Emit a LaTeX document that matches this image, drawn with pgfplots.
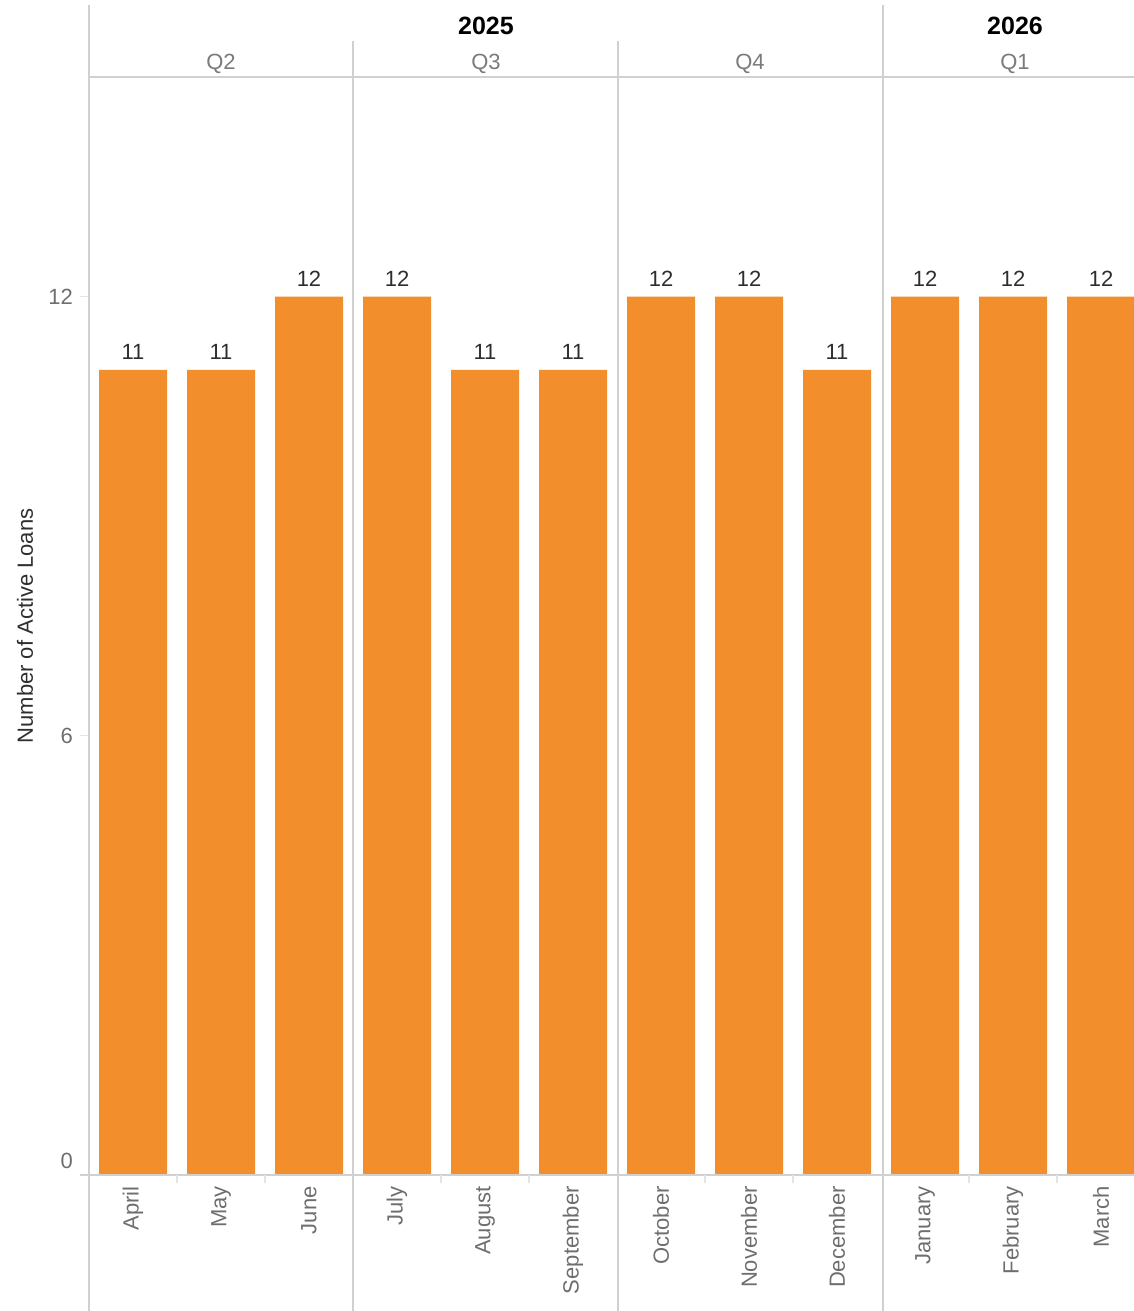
\documentclass[border=0pt]{standalone}
\usepackage{fontspec}
\setmainfont{Liberation Sans}
\usepackage{pgfplots}
\pgfplotsset{compat=1.18}
\definecolor{barorange}{HTML}{F28E2B}
\definecolor{gridgrey}{HTML}{D0D0D0}
\definecolor{tickgrey}{HTML}{E4E4E4}
\definecolor{ticklab}{HTML}{6E6E6E}
\definecolor{qlab}{HTML}{7A7A7A}
\definecolor{lab}{HTML}{2E2E2E}
\begin{document}
\begin{tikzpicture}
\begin{axis}[
  at={(0,0)}, anchor=south west,
  scale only axis, width=528pt, height=549pt,
  xmin=-0.5, xmax=11.5, ymin=0, ymax=15,
  axis line style={draw=none},
  clip=false,
  xtick={0,...,11},
  xticklabels={April,May,June,July,August,September,October,November,December,January,February,March},
  xtick style={draw=none},
  xticklabel style={font=\fontsize{11}{13}\selectfont, text=ticklab, yshift=-1pt, rotate=90, anchor=east, inner sep=0pt},
  ytick={6,12},
  ytick pos=left, tick align=outside,
  ytick style={draw=tickgrey, line width=0.6pt},
  major tick length=4.5pt,
  yticklabel style={font=\fontsize{11}{13}\selectfont, text=ticklab},
  /pgf/number format/assume math mode=true,
  extra y ticks={0},
  extra y tick style={yticklabel style={yshift=7pt}},
  ylabel={Number of Active Loans},
  ylabel style={at={(axis description cs:-0.0606,0.5)}, anchor=center, font=\fontsize{11}{13}\selectfont, text=lab},
  nodes near coords,
  every node near coord/.append style={font=\fontsize{11}{13}\selectfont, text=lab, inner sep=0pt, yshift=5pt},
]
\addplot[ybar, bar width=34pt, fill=barorange, draw=none] coordinates {
  (0,11) (1,11) (2,12) (3,12) (4,11) (5,11) (6,12) (7,12) (8,11) (9,12) (10,12) (11,12)};
\end{axis}
% separators
\begin{scope}[gridgrey, line width=0.6pt]
  \draw (0,-68pt) -- (0,585pt);
  \draw (397pt,-68pt) -- (397pt,585pt);
  \draw (132pt,-68pt) -- (132pt,567pt);
  \draw (264.5pt,-68pt) -- (264.5pt,567pt);
  \draw (0,549pt) -- (530pt,549pt);
  \draw (-4.5pt,0) -- (530pt,0);
\end{scope}
\foreach \x in {44,88,176,220,308,352,440,484}
  \draw[tickgrey, line width=0.6pt] (\x pt,0) -- (\x pt,-4pt);
% header
\node[font=\bfseries\fontsize{12.5}{14}\selectfont, text=black] at (198.5pt,574.75pt) {2025};
\node[font=\bfseries\fontsize{12.5}{14}\selectfont, text=black] at (463pt,574.75pt) {2026};
\foreach \x/\q in {66/Q2,198.5/Q3,330.5/Q4,463/Q1}
  \node[font=\fontsize{11}{13}\selectfont, text=qlab] at (\x pt,555.5pt) {\q};
\pgfresetboundingbox
\path (-44.5pt,-68pt) rectangle (522.5pt,587.5pt);
\end{tikzpicture}
\end{document}
